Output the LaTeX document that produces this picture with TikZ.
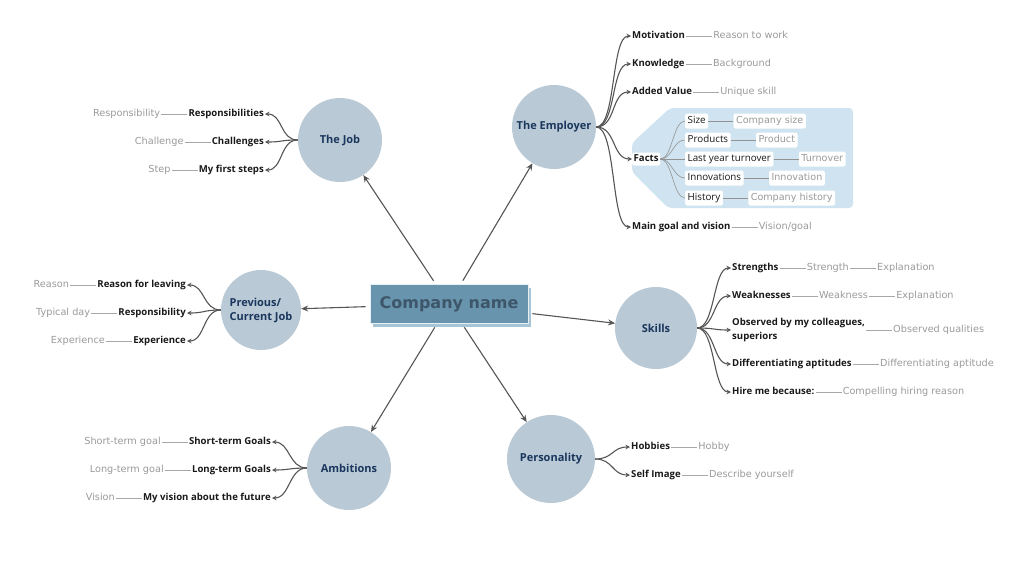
\documentclass[tikz,border=0pt]{standalone}
\usepackage{fontspec}
\setmainfont{Open Sans}
\newfontfamily\gfont{DejaVu Sans}
\newfontfamily\gboldfont{DejaVu Sans}
\usetikzlibrary{arrows.meta,positioning}
\definecolor{circfill}{HTML}{B9CAD6}
\definecolor{navy}{HTML}{1B365D}
\definecolor{cnfill}{HTML}{6894AD}
\definecolor{cntext}{HTML}{3E5669}
\definecolor{cnshadow}{HTML}{A6C5D5}
\definecolor{factsfill}{HTML}{CFE4F0}
\definecolor{arrcol}{HTML}{555555}
\definecolor{graytext}{HTML}{9A9A9A}
\definecolor{linkcol}{HTML}{A8A8A8}
\begin{document}
\begin{tikzpicture}[x=1pt,y=-1pt,
 topic/.style={circle, fill=circfill, minimum size=84pt, inner sep=0pt, align=center, text=navy, font=\fontsize{11}{14}\selectfont\bfseries},
 lab/.style={inner sep=1pt, text height=7.5pt, text depth=2.5pt, font=\fontsize{9.6}{14}\selectfont\bfseries, text=black!90},
 glab/.style={inner sep=1pt, text height=7.5pt, text depth=2.5pt, font=\gfont\fontsize{9.7}{12}\selectfont, text=graytext},
 fact/.style={fill=white, rounded corners=2pt, inner sep=2.5pt, text height=7.5pt, text depth=2.5pt, font=\fontsize{9.8}{12}\selectfont, text=black!90},
 gfact/.style={fact, font=\gfont\fontsize{9.6}{12}\selectfont, text=graytext},
 mainarr/.style={draw=arrcol, line width=1.1pt, -{Stealth[length=7pt,width=6pt]}, shorten <=4pt},
 br/.style={draw=arrcol, line width=1.1pt, -{Stealth[length=4.5pt,width=4.5pt]}},
 link/.style={draw=linkcol, line width=0.7pt},
 flink/.style={draw=gray!85, line width=0.6pt},
 node distance=26pt]
\useasboundingbox (0,0) rectangle (1024,576);

% central node
\fill[cnshadow] (373,287.5) rectangle (531,326.5);
\node[fill=cnfill, draw=white!85!cnfill, line width=0.8pt, minimum width=158pt, minimum height=39pt, inner sep=0pt, text=cntext, font=\gboldfont\fontsize{16}{18}\selectfont\bfseries] (cn) at (449,304) {Company name};

% topics
\node[topic] (job) at (340,140) {The Job};
\node[topic] (emp) at (554,127) {The Employer};
\node[topic, minimum size=80pt, align=left] (prev) at (261,310) {Previous/\\Current Job};
\node[topic, minimum size=82pt] (skills) at (656,328) {Skills};
\node[topic] (amb) at (349,468) {Ambitions};
\node[topic, minimum size=88pt] (pers) at (551,459) {Personality};

\draw[mainarr] (cn) -- (job);
\draw[mainarr] (cn) -- (emp);
\draw[mainarr] (cn) -- (prev);
\draw[mainarr] (cn) -- (skills);
\draw[mainarr] (cn) -- (amb);
\draw[mainarr] (cn) -- (pers);

% Facts background
\fill[factsfill, rounded corners=4pt] (670,108) -- (853,108) -- (853,208) -- (668,208) -- (632,172) -- (632,143) -- cycle;

\begin{scope}[yshift=-2pt]
% The Job
\node[lab, anchor=east] (j1) at (265,112) {Responsibilities};
\node[lab, anchor=east] (j2) at (265,140) {Challenges};
\node[lab, anchor=east] (j3) at (265,168) {My first steps};
\node[glab, left=26pt of j1] (j1g) {Responsibility};
\node[glab, left=26pt of j2] (j2g) {Challenge};
\node[glab, left=26pt of j3] (j3g) {Step};

% Previous / Current Job
\node[lab, anchor=east] (p1) at (187,283) {Reason for leaving};
\node[lab, anchor=east] (p2) at (187,311) {Responsibility};
\node[lab, anchor=east] (p3) at (187,339) {Experience};
\node[glab, left=26pt of p1] (p1g) {Reason};
\node[glab, left=26pt of p2] (p2g) {Typical day};
\node[glab, left=26pt of p3] (p3g) {Experience};

% Ambitions
\node[lab, anchor=east] (a1) at (272,440) {Short-term Goals};
\node[lab, anchor=east] (a2) at (272,468) {Long-term Goals};
\node[lab, anchor=east] (a3) at (272,496) {My vision about the future};
\node[glab, left=26pt of a1] (a1g) {Short-term goal};
\node[glab, left=26pt of a2] (a2g) {Long-term goal};
\node[glab, left=26pt of a3] (a3g) {Vision};

% The Employer
\node[lab, anchor=west] (e1) at (631,34) {Motivation};
\node[lab, anchor=west] (e2) at (631,62) {Knowledge};
\node[lab, anchor=west] (e3) at (631,90) {Added Value};
\node[fact, inner sep=1.5pt, font=\fontsize{9.6}{12}\selectfont\bfseries, anchor=west] (e4) at (632,157) {Facts};
\node[lab, anchor=west] (e5) at (631,225) {Main goal and vision};
\node[glab, right=26pt of e1] (e1g) {Reason to work};
\node[glab, right=26pt of e2] (e2g) {Background};
\node[glab, right=26pt of e3] (e3g) {Unique skill};
\node[glab, right=26pt of e5] (e5g) {Vision/goal};

% Facts
\node[fact, anchor=west] (f1) at (685,119) {Size};
\node[fact, anchor=west] (f2) at (685,138) {Products};
\node[fact, anchor=west] (f3) at (685,157) {Last year turnover};
\node[fact, anchor=west] (f4) at (685,176) {Innovations};
\node[fact, anchor=west] (f5) at (685,196) {History};
\node[gfact, right=25pt of f1] (f1g) {Company size};
\node[gfact, right=25pt of f2] (f2g) {Product};
\node[gfact, right=25pt of f3] (f3g) {Turnover};
\node[gfact, right=25pt of f4] (f4g) {Innovation};
\node[gfact, right=25pt of f5] (f5g) {Company history};

% Skills
\node[lab, anchor=west] (s1) at (731,266) {Strengths};
\node[lab, anchor=west] (s2) at (731,294) {Weaknesses};
\node[lab, anchor=west, align=left, text height=, text depth=] (s3) at (731,328) {Observed by my colleagues,\\superiors};
\node[lab, anchor=west] (s4) at (731,362) {Differentiating aptitudes};
\node[lab, anchor=west] (s5) at (731,390) {Hire me because:};
\node[glab, right=26pt of s1] (s1g) {Strength};
\node[glab, right=26pt of s1g] (s1h) {Explanation};
\node[glab, right=26pt of s2] (s2g) {Weakness};
\node[glab, right=26pt of s2g] (s2h) {Explanation};
\node[glab, right=26pt of s3] (s3g) {Observed qualities};
\node[glab, right=26pt of s4] (s4g) {Differentiating aptitude};
\node[glab, right=26pt of s5] (s5g) {Compelling hiring reason};

% Personality
\node[lab, anchor=west] (r1) at (630,445) {Hobbies};
\node[lab, anchor=west] (r2) at (630,473) {Self Image};
\node[glab, right=26pt of r1] (r1g) {Hobby};
\node[glab, right=26pt of r2] (r2g) {Describe yourself};
\end{scope}

% connectors
\foreach \n in {j1,j2,j3}{
  \draw[br] (job.west) .. controls +(-18,0) and +(18,0) .. (\n.east);
  \draw[link] (\n) -- (\n g);
}
\foreach \n in {p1,p2,p3}{
  \draw[br] (prev.west) .. controls +(-18,0) and +(18,0) .. (\n.east);
  \draw[link] (\n) -- (\n g);
}
\foreach \n in {a1,a2,a3}{
  \draw[br] (amb.west) .. controls +(-18,0) and +(18,0) .. (\n.east);
  \draw[link] (\n) -- (\n g);
}
\foreach \n in {e1,e2,e3,e5}{
  \draw[link] (\n) -- (\n g);
}
\foreach \n in {e1,e2,e3,e4,e5}{
  \draw[br] (emp.east) .. controls +(20,0) and +(-20,0) .. (\n.west);
}
\foreach \n in {f1,f2,f3,f4,f5}{
  \draw[flink] (e4.east) .. controls +(12,0) and +(-12,0) .. (\n.west);
  \draw[flink] (\n) -- (\n g);
}
\foreach \n in {s1,s2,s3,s4,s5}{
  \draw[br] (skills.east) .. controls +(18,0) and +(-18,0) .. (\n.west);
  \draw[link] (\n) -- (\n g);
}
\draw[link] (s1g) -- (s1h);
\draw[link] (s2g) -- (s2h);
\foreach \n in {r1,r2}{
  \draw[br] (pers.east) .. controls +(18,0) and +(-18,0) .. (\n.west);
  \draw[link] (\n) -- (\n g);
}
\end{tikzpicture}
\end{document}
